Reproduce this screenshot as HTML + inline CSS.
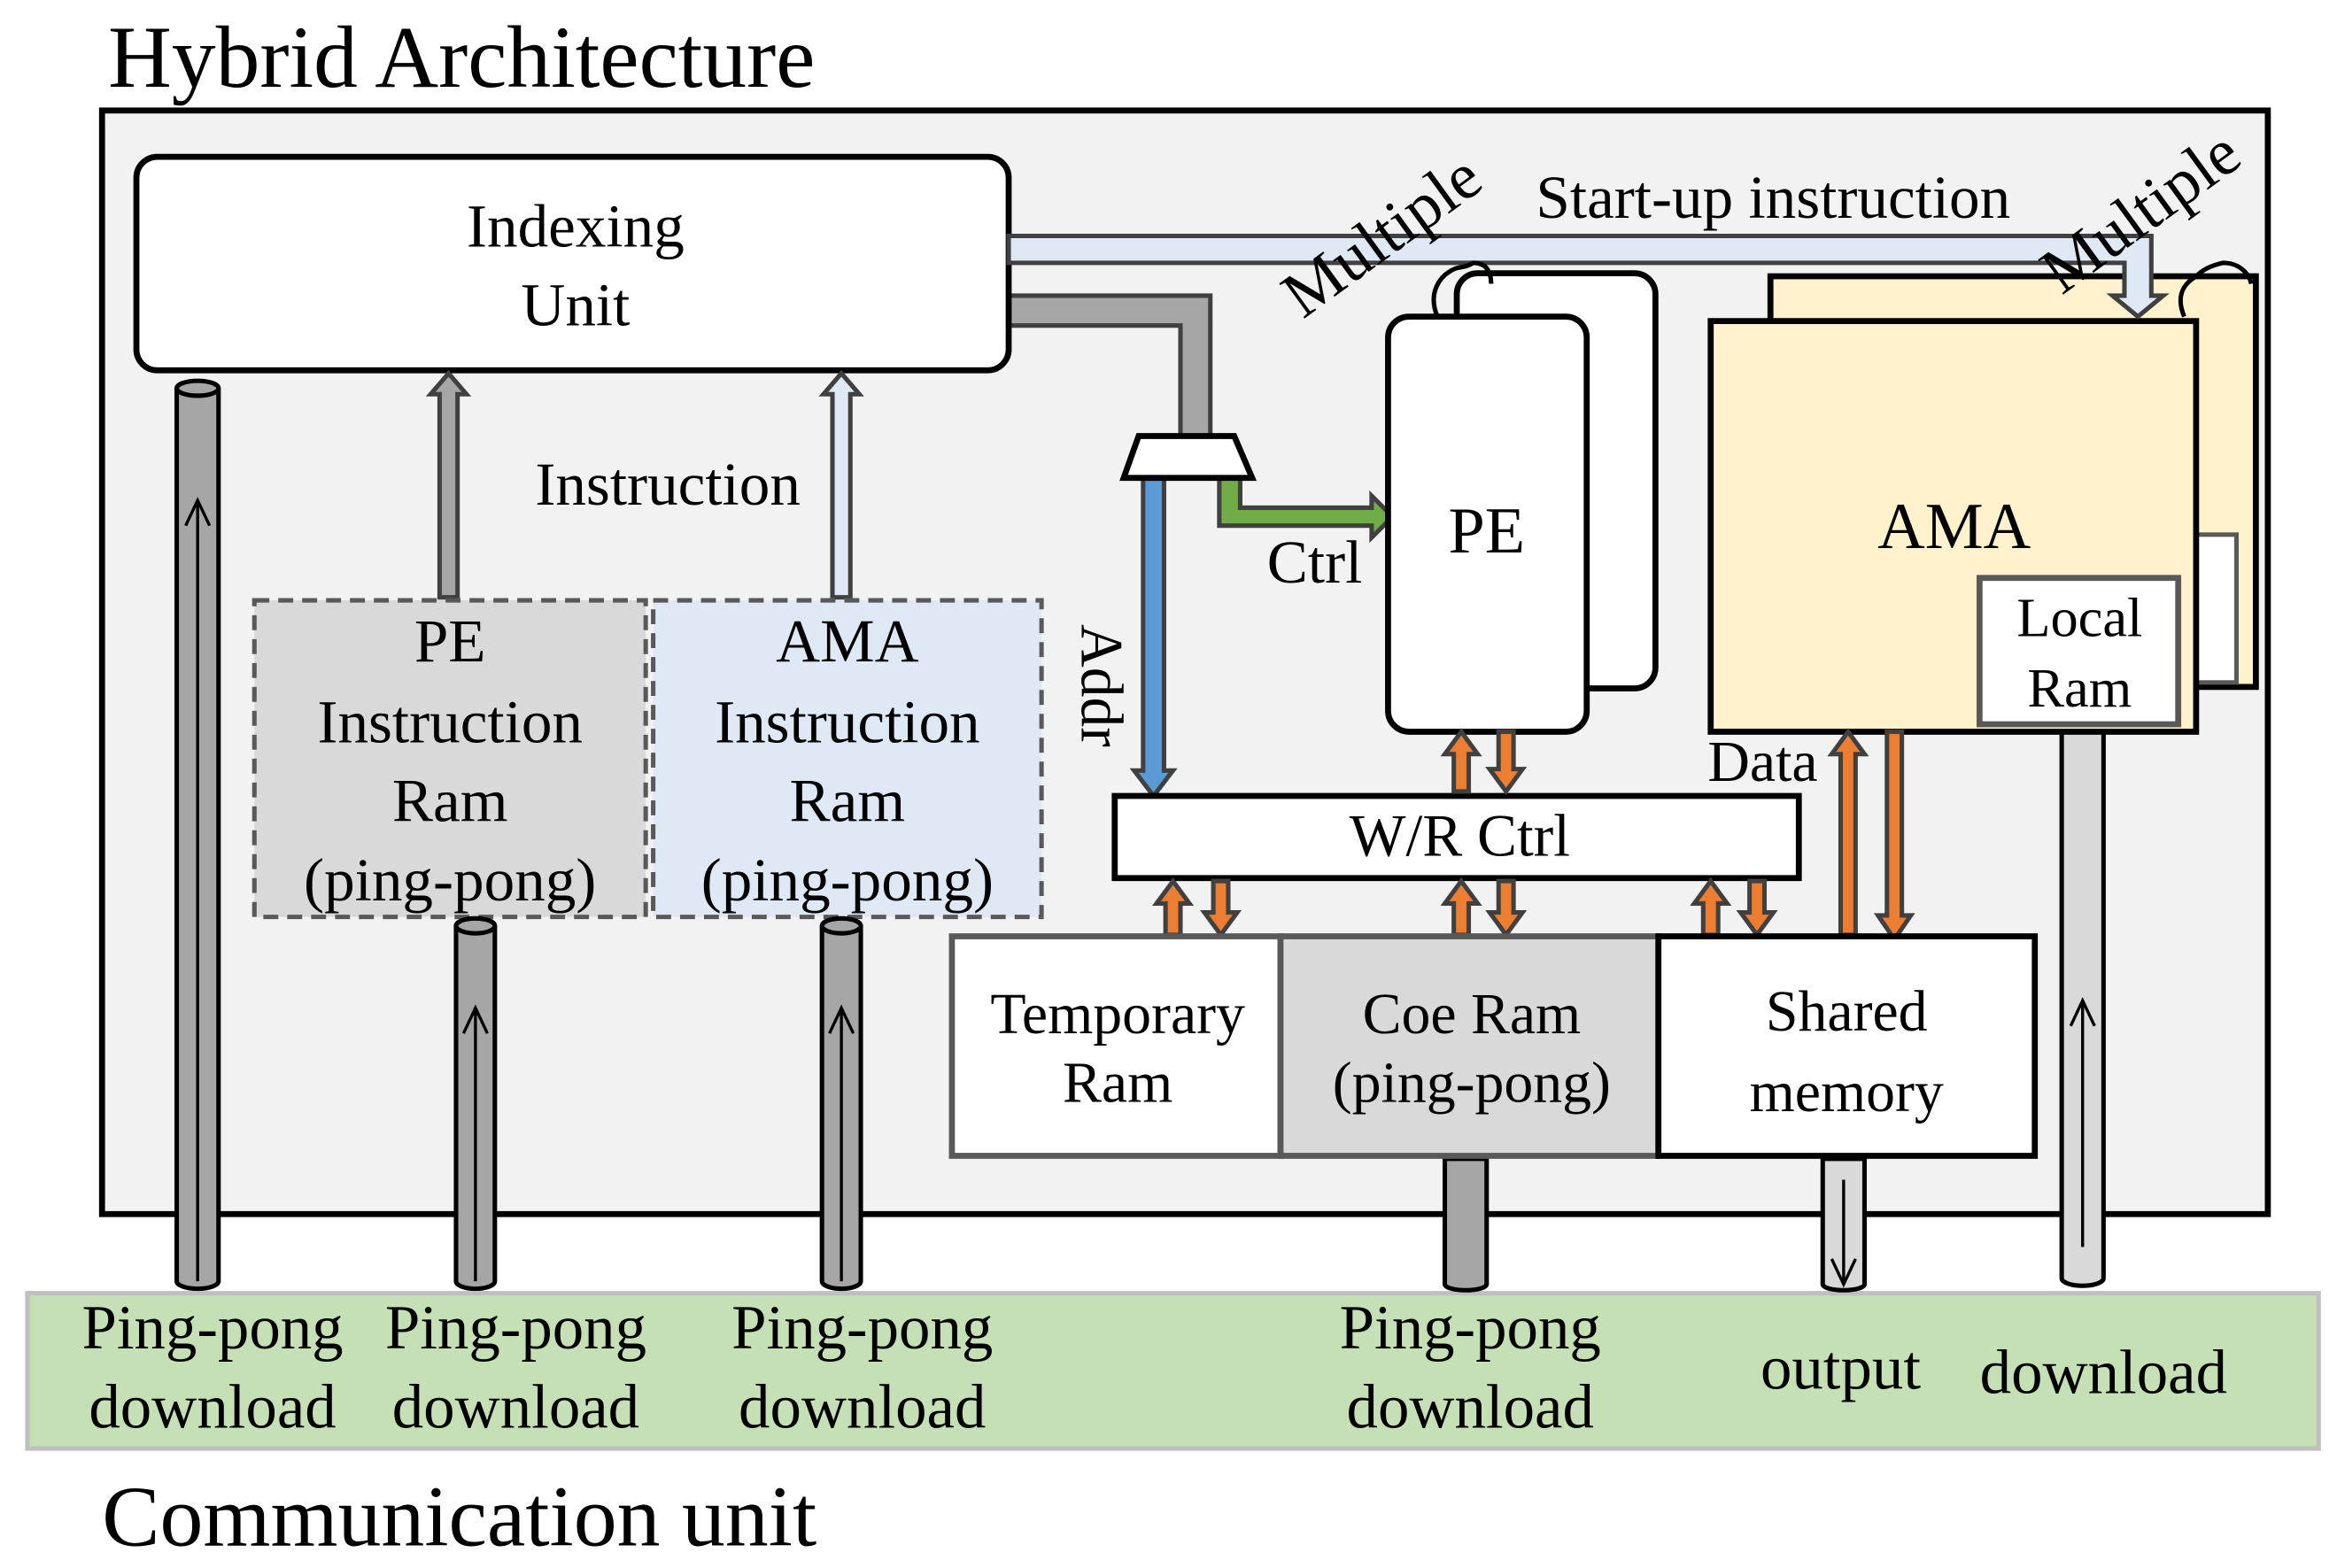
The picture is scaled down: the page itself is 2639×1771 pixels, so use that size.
<!DOCTYPE html>
<html><head><meta charset="utf-8"><style>html,body{margin:0;padding:0;background:#fff}svg{display:block}text{font-family:"Liberation Serif",serif;fill:#000}</style></head>
<body>
<svg width="2639" height="1771" viewBox="0 0 1564 1050" xmlns="http://www.w3.org/2000/svg">
<rect width="1564" height="1050" fill="#fff"/>
<text x="72" y="58" font-size="59">Hybrid Architecture</text>
<rect x="68" y="74" width="1450" height="739" fill="#f2f2f2" stroke="#000" stroke-width="4"/>
<rect x="18" y="866" width="1534" height="104" fill="#c5e0b4" stroke="#bfbfbf" stroke-width="3"/>
<text x="68" y="1035" font-size="58">Communication unit</text>

<path d="M675 198 H810 V292 H790 V218 H675 Z" fill="#a6a6a6" stroke="#404040" stroke-width="3"/>

<rect x="91" y="105" width="584" height="143" rx="14" fill="#fff" stroke="#000" stroke-width="4"/>
<text x="385" y="165" font-size="41" text-anchor="middle">Indexing</text>
<text x="385" y="218" font-size="41" text-anchor="middle">Unit</text>

<path d="M294 400 V264 H288 L300 250 L312 264 H306 V400 Z" fill="#a6a6a6" stroke="#404040" stroke-width="3"/>
<path d="M557 400 V264 H551 L563 250 L575 264 H569 V400 Z" fill="#dee9f5" stroke="#404040" stroke-width="3"/>
<text x="358" y="338" font-size="41">Instruction</text>

<rect x="170" y="402" width="262" height="212" fill="#d9d9d9" stroke="#595959" stroke-width="3" stroke-dasharray="10,6"/>
<rect x="437" y="402" width="260" height="212" fill="#dee9f5" stroke="#595959" stroke-width="3" stroke-dasharray="10,6"/>
<g font-size="41" text-anchor="middle">
<text x="301" y="443">PE</text><text x="301" y="497">Instruction</text><text x="301" y="550">Ram</text><text x="301" y="603">(ping-pong)</text>
<text x="567" y="443">AMA</text><text x="567" y="497">Instruction</text><text x="567" y="550">Ram</text><text x="567" y="603">(ping-pong)</text>
</g>

<g stroke="#000" stroke-width="3">
<path d="M118 260 V858 A14 5 0 0 0 146 858 V260" fill="#a6a6a6"/><ellipse cx="132" cy="260" rx="14" ry="5" fill="#a6a6a6"/>
<path d="M305 620 V858 A13 5 0 0 0 331 858 V620" fill="#a6a6a6"/><ellipse cx="318" cy="620" rx="13" ry="5" fill="#a6a6a6"/>
<path d="M550 620 V858 A13 5 0 0 0 576 858 V620" fill="#a6a6a6"/><ellipse cx="563" cy="620" rx="13" ry="5" fill="#a6a6a6"/>
<path d="M967 776 V860 A14 4 0 0 0 995 860 V776 Z" fill="#a6a6a6"/>
<path d="M1220 776 V860 A14 4 0 0 0 1248 860 V776 Z" fill="#d9d9d9"/>
<path d="M1380 490 V856 A14 5 0 0 0 1408 856 V490 Z" fill="#d9d9d9"/>
</g>
<g stroke="#000" stroke-width="2" fill="none">
<path d="M132 858 V335 M124 352 L132 335 L140 352"/>
<path d="M318 858 V675 M310 692 L318 675 L326 692"/>
<path d="M563 858 V675 M555 692 L563 675 L571 692"/>
<path d="M1234 790 V860 M1226 843 L1234 860 L1242 843"/>
<path d="M1394 835 V670 M1386 687 L1394 670 L1402 687"/>
</g>

<path d="M765 320 V516 H759 L772 533 L785 516 H779 V320 Z" fill="#5b9bd5" stroke="#404040" stroke-width="3"/>
<path d="M816 320 V352 H918 V360 L932 346 L918 332 V340 H830 V320 Z" fill="#70ad47" stroke="#404040" stroke-width="3"/>
<path d="M762 292 H826 L838 320 H752 Z" fill="#fff" stroke="#000" stroke-width="4"/>
<text x="0" y="0" font-size="40" transform="translate(724 418) rotate(90)">Addr</text>
<text x="848" y="390" font-size="41">Ctrl</text>

<rect x="975" y="183" width="133" height="278" rx="14" fill="#fff" stroke="#000" stroke-width="4"/>
<rect x="929" y="212" width="133" height="278" rx="14" fill="#fff" stroke="#000" stroke-width="4"/>
<text x="995" y="370" font-size="44" text-anchor="middle">PE</text>

<rect x="1185" y="185" width="325" height="275" fill="#fff2cc" stroke="#000" stroke-width="4"/>
<rect x="1470" y="358" width="27" height="99" fill="#fff" stroke="#595959" stroke-width="3"/>
<rect x="1145" y="215" width="325" height="275" fill="#fff2cc" stroke="#000" stroke-width="4"/>
<text x="1308" y="367" font-size="44" text-anchor="middle">AMA</text>
<rect x="1325" y="387" width="133" height="98" fill="#fff" stroke="#595959" stroke-width="4"/>
<text x="1392" y="426" font-size="37" text-anchor="middle">Local</text>
<text x="1392" y="473" font-size="37" text-anchor="middle">Ram</text>

<path d="M675 158 H1440 V198 H1448 L1431 212 L1414 198 H1422 V176 H675 Z" fill="#dee9f5" stroke="#404040" stroke-width="3"/>

<path d="M962 212 C955 195 965 185 970 182 C975 178 980 180 986 176 C995 176 998 182 998 190" fill="none" stroke="#000" stroke-width="3"/>
<path d="M1462 212 C1455 195 1465 188 1470 185 C1475 180 1480 178 1488 176 C1498 176 1505 182 1507 190" fill="none" stroke="#000" stroke-width="3"/>
<text font-size="44" transform="translate(872 214) rotate(-36)">Multiple</text>
<text font-size="44" transform="translate(1380 198) rotate(-36)">Multiple</text>
<text x="1028" y="146" font-size="41">Start-up instruction</text>

<rect x="746" y="533" width="458" height="55" fill="#fff" stroke="#000" stroke-width="4"/>
<text x="977" y="573" font-size="40" text-anchor="middle">W/R Ctrl</text>

<g fill="#ed7d31" stroke="#404040" stroke-width="3">
<path d="M973 530 V505 H967 L978 490 L989 505 H983 V530 Z"/>
<path d="M1003 490 V515 H997 L1008 530 L1019 515 H1013 V490 Z"/>
<path d="M780 626 V605 H774 L785 590 L796 605 H790 V626 Z"/>
<path d="M812 590 V611 H806 L817 626 L828 611 H822 V590 Z"/>
<path d="M973 626 V605 H967 L978 590 L989 605 H983 V626 Z"/>
<path d="M1003 590 V611 H997 L1008 626 L1019 611 H1013 V590 Z"/>
<path d="M1140 626 V605 H1134 L1145 590 L1156 605 H1150 V626 Z"/>
<path d="M1171 590 V611 H1165 L1176 626 L1187 611 H1181 V590 Z"/>
<path d="M1232 626 V505 H1226 L1237 490 L1248 505 H1242 V626 Z"/>
<path d="M1263 490 V613 H1257 L1268 629 L1279 613 H1273 V490 Z"/>
</g>
<text x="1143" y="523" font-size="39">Data</text>

<rect x="637" y="627" width="220" height="147" fill="#fff" stroke="#595959" stroke-width="4"/>
<rect x="857" y="627" width="253" height="147" fill="#d9d9d9" stroke="#595959" stroke-width="4"/>
<rect x="1110" y="627" width="252" height="147" fill="#fff" stroke="#000" stroke-width="4"/>
<g font-size="39" text-anchor="middle">
<text x="748" y="692">Temporary</text><text x="748" y="738">Ram</text>
<text x="985" y="692">Coe Ram</text><text x="985" y="738">(ping-pong)</text>
<text x="1236" y="690">Shared</text><text x="1236" y="744">memory</text>
</g>

<g font-size="42" text-anchor="middle">
<text x="142" y="903">Ping-pong</text><text x="142" y="956">download</text>
<text x="345" y="903">Ping-pong</text><text x="345" y="956">download</text>
<text x="577" y="903">Ping-pong</text><text x="577" y="956">download</text>
<text x="984" y="903">Ping-pong</text><text x="984" y="956">download</text>
<text x="1232" y="930">output</text>
<text x="1408" y="933">download</text>
</g>
</svg>
</body></html>
